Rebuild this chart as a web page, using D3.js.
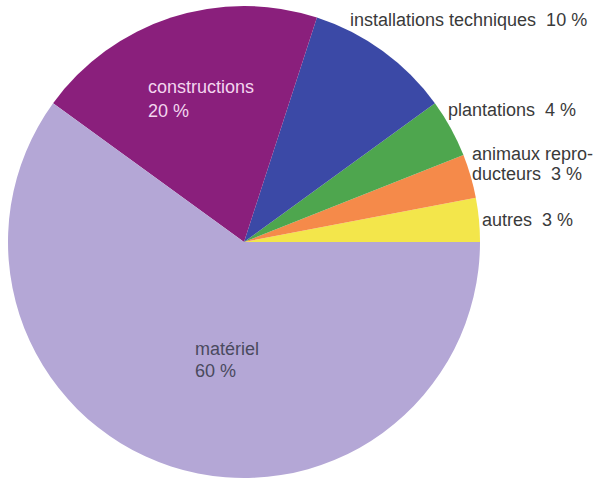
<!DOCTYPE html>
<html><head><meta charset="utf-8">
<script src="https://cdn.jsdelivr.net/npm/d3@7"></script>
<style>body{margin:0;background:#fff}svg{display:block}text{font-family:"Liberation Sans",Arial,sans-serif;white-space:pre}</style>
</head><body><svg width="599" height="480"></svg>
<script>
const categories = ["autres", "animaux reproducteurs", "plantations", "installations techniques", "constructions", "matériel"];
const shares = [3, 3, 4, 10, 20, 60];
const colors = ["#f3e64b", "#f58a4a", "#4ea64e", "#3b49a6", "#8a1f7c", "#b4a7d6"];
// label lines per slice
const labelLines = [["autres  3 %"], ["animaux repro-", "ducteurs  3 %"], ["plantations  4 %"], ["installations techniques  10 %"], ["constructions", "20 %"], ["matériel", "60 %"]];

const svg = d3.select("svg");
const cx = 244, cy = 242, r = 236;
const g = svg.append("g").attr("transform", `translate(${cx},${cy})`);

// slices run counter-clockwise from 3 o'clock
const pie = d3.pie().sort(null).value(d => d).startAngle(Math.PI / 2).endAngle(Math.PI / 2 - 2 * Math.PI);
const arcs = pie(shares);
const arc = d3.arc().innerRadius(0).outerRadius(r);

g.selectAll("path").data(arcs).join("path")
  .attr("d", arc).attr("fill", (d, i) => colors[i]);

// label baselines (relative to the centre), line gap and colours
const labelPos = [[238, -16], [228, -82], [204, -126], [106, -216], [-96, -149], [-49, 113]];
const lineGap = [0, 20, 0, 0, 24, 22];
const labelColor = ["#3a3a3a", "#3a3a3a", "#3a3a3a", "#3a3a3a", "#f3d6ef", "#4a4a5e"];

labelLines.forEach((lines, i) => {
  const t = g.append("text")
    .attr("x", labelPos[i][0]).attr("y", labelPos[i][1])
    .attr("fill", labelColor[i]).attr("font-size", 18);
  lines.forEach((ln, k) => {
    t.append("tspan").attr("x", labelPos[i][0]).attr("dy", k === 0 ? 0 : lineGap[i]).text(ln);
  });
});
</script></body></html>
